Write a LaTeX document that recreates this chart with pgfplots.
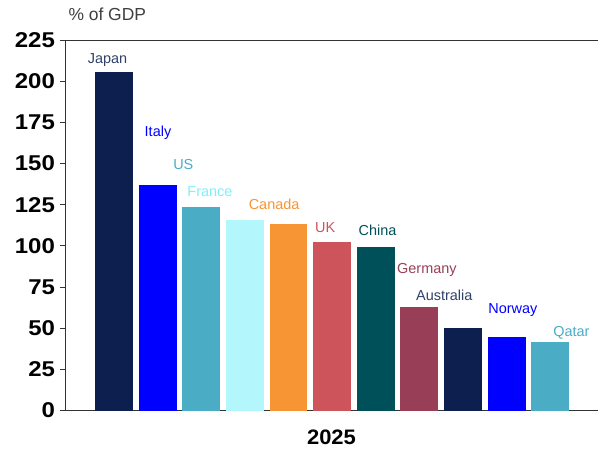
\documentclass[border=0pt]{standalone}
\usepackage{pgfplots}
\pgfplotsset{compat=1.18}
\usepackage{fontspec}
\setmainfont{Liberation Sans}
\definecolor{cnavy}{HTML}{0C1F4F}
\definecolor{cblue}{HTML}{0000FF}
\definecolor{cteal}{HTML}{4BACC6}
\definecolor{clcyan}{HTML}{B3F7FC}
\definecolor{corange}{HTML}{F79433}
\definecolor{cred}{HTML}{CD545B}
\definecolor{cdteal}{HTML}{00505A}
\definecolor{cwine}{HTML}{983E56}
\definecolor{lblcyan}{HTML}{7FEFFA}
\begin{document}
\begin{tikzpicture}
\begin{axis}[
  name=ax,
  scale only axis,
  width=533bp, height=370.5bp,
  xmin=-1.12, xmax=11.09,
  ymin=0, ymax=225,
  ytick={0,25,...,225},
  xtick=\empty,
  axis y line=left,
  axis x line=box,
  axis line style={draw=black!80, line width=0.8pt},
  y axis line style={-},
  x axis line style={-},
  tick align=outside,
  major tick length=5bp,
  ytick style={black!80, line width=0.8pt},
  yticklabel style={font=\fontsize{21.5}{24}\selectfont\bfseries, xscale=1.12, xshift=-1bp},
  /pgf/number format/assume math mode=true,
  ybar, bar shift=0pt, bar width=0.87,
  clip=false,
]
\addplot[fill=cnavy, draw=none] coordinates {(0,205.6)};
\addplot[fill=cblue, draw=none] coordinates {(1,136.9)};
\addplot[fill=cteal, draw=none] coordinates {(2,123.6)};
\addplot[fill=clcyan, draw=none] coordinates {(3,115.7)};
\addplot[fill=corange, draw=none] coordinates {(4,113.3)};
\addplot[fill=cred, draw=none] coordinates {(5,102.1)};
\addplot[fill=cdteal, draw=none] coordinates {(6,99.1)};
\addplot[fill=cwine, draw=none] coordinates {(7,62.7)};
\addplot[fill=cnavy, draw=none] coordinates {(8,50.3)};
\addplot[fill=cblue, draw=none] coordinates {(9,44.6)};
\addplot[fill=cteal, draw=none] coordinates {(10,41.6)};
\begin{scope}[every node/.style={anchor=base, font=\fontsize{14.5}{17}\selectfont}]
\node[text=cnavy!85] at (axis cs:-0.145,211.0) {Japan};
\node[text=cblue] at (axis cs:1.01,166.6) {Italy};
\node[text=cteal] at (axis cs:1.59,146.6) {US};
\node[text=lblcyan] at (axis cs:2.20,130.1) {France};
\node[text=corange] at (axis cs:3.67,122.2) {Canada};
\node[text=cred] at (axis cs:4.84,108.2) {UK};
\node[text=cdteal] at (axis cs:6.04,106.4) {China};
\node[text=cwine] at (axis cs:7.17,83.3) {Germany};
\node[text=cnavy!85] at (axis cs:7.57,66.9) {Australia};
\node[text=cblue] at (axis cs:9.14,59.0) {Norway};
\node[text=cteal] at (axis cs:10.48,45.0) {Qatar};
\end{scope}
\node[anchor=base west, text=black!75, font=\fontsize{17.5}{20}\selectfont] at (rel axis cs:0,1) [yshift=19bp] {\% of GDP};
\node[anchor=base, font=\fontsize{21}{24}\selectfont\bfseries, xscale=1.05] at (rel axis cs:0.5,0) [yshift=-34bp] {2025};
\end{axis}
\pgfresetboundingbox
\path ([shift={(-65bp,-39.5bp)}]ax.south west) rectangle ([shift={(1bp,40bp)}]ax.north east);
\end{tikzpicture}
\end{document}
